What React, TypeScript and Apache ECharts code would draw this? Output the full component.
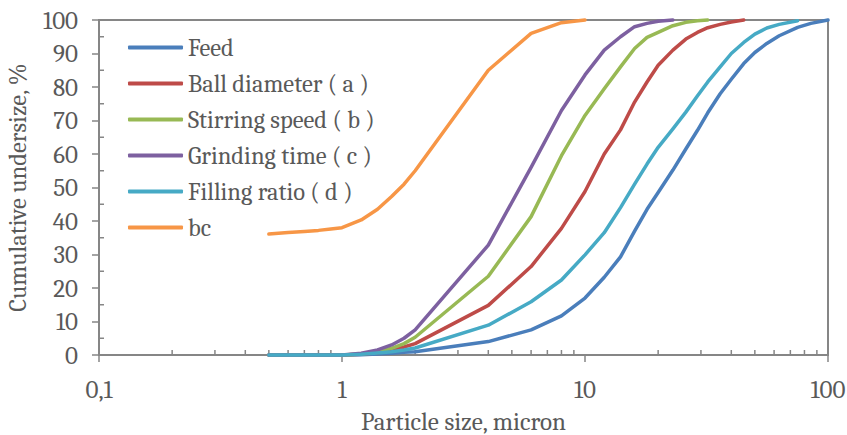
import React, { useEffect, useRef } from "react";
import * as echarts from "echarts";

// Particle sizes (micron)
const sizes = [0.5, 0.6, 0.7, 0.8, 0.9, 1, 1.2, 1.4, 1.6, 1.8, 2, 4, 6, 8, 10, 12, 14, 16, 18, 20, 23, 26, 29, 32, 36, 40, 45, 50, 56, 63, 75, 85, 100];

const seriesNames = ["Feed", "Ball diameter ( a )", "Stirring speed ( b )", "Grinding time ( c )", "Filling ratio ( d )", "bc"];
const seriesColors = ["#4A7EBB", "#BE4B48", "#98B954", "#7D60A0", "#46AAC5", "#F79646"];

const feed = [0, 0, 0, 0, 0, 0, 0.1, 0.3, 0.5, 0.8, 1.0, 4.0, 7.5, 11.7, 17.0, 23.2, 29.3, 37.0, 43.5, 48.5, 55.2, 61.5, 67.0, 72.3, 78.0, 82.3, 87.0, 90.3, 93.0, 95.3, 97.8, 99.0, 100];
const ballDiameter = [0, 0, 0, 0, 0, 0, 0.2, 0.7, 1.4, 2.4, 3.4, 14.8, 26.4, 37.8, 48.8, 60.0, 67.2, 75.5, 81.5, 86.5, 91.0, 94.3, 96.3, 97.7, 98.7, 99.4, 100];
const stirringSpeed = [0, 0, 0, 0, 0, 0, 0.3, 1.0, 2.0, 3.4, 5.3, 23.5, 41.3, 59.5, 71.5, 79.5, 86.0, 91.5, 94.8, 96.3, 98.3, 99.3, 99.8, 100];
const grindingTime = [0, 0, 0, 0, 0, 0, 0.5, 1.5, 3.0, 5.0, 7.5, 32.8, 56.0, 73.0, 83.6, 91.0, 95.0, 98.0, 99.0, 99.6, 100];
const fillingRatio = [0, 0, 0, 0, 0, 0, 0.2, 0.6, 1.0, 1.5, 2.1, 8.9, 15.9, 22.4, 29.9, 36.5, 44.0, 51.0, 57.0, 62.0, 67.5, 72.5, 77.3, 81.5, 86.0, 90.0, 93.3, 95.8, 97.6, 98.7, 99.8];
const bc = [36.1, 36.6, 36.9, 37.2, 37.6, 38.0, 40.3, 43.5, 47.3, 51.0, 55.0, 85.0, 96.0, 99.2, 100];

const allValues = [feed, ballDiameter, stirringSpeed, grindingTime, fillingRatio, bc];

// minor tick positions
const xMinorTicks = [0.2, 0.3, 0.4, 0.5, 0.6, 0.7, 0.8, 0.9, 2, 3, 4, 5, 6, 7, 8, 9, 20, 30, 40, 50, 60, 70, 80, 90];
const yMinorTicks = [5, 15, 25, 35, 45, 55, 65, 75, 85, 95];

const FONT = "Caladea";
const AXIS_COLOR = "#868686";
const TEXT_COLOR = "#595959";

export default function App() {
  const ref = useRef<HTMLDivElement>(null);
  useEffect(() => {
    if (!ref.current) return;
    const chart = echarts.init(ref.current, undefined, { renderer: "svg" });
    const lineSeries = allValues.map((vals, i) => ({
      name: seriesNames[i],
      type: "line",
      data: vals.map((v, j) => [sizes[j], v]),
      showSymbol: false,
      symbol: "none",
      clip: false,
      lineStyle: { color: seriesColors[i], width: 3.5, cap: "round", join: "round" },
      itemStyle: { color: seriesColors[i] },
      z: 3,
    }));
    const minorX = {
      type: "custom",
      silent: true,
      data: xMinorTicks.map((x) => [x, 0]),
      renderItem: (params: any, api: any) => {
        const p = api.coord([api.value(0), api.value(1)]);
        return {
          type: "line",
          shape: { x1: p[0], y1: p[1], x2: p[0], y2: p[1] - 5 },
          style: { stroke: AXIS_COLOR, lineWidth: 1.5 },
        };
      },
      z: 1,
    };
    const minorY = {
      type: "custom",
      silent: true,
      data: yMinorTicks.map((y) => [0.1, y]),
      renderItem: (params: any, api: any) => {
        const p = api.coord([api.value(0), api.value(1)]);
        return {
          type: "line",
          shape: { x1: p[0], y1: p[1], x2: p[0] + 5, y2: p[1] },
          style: { stroke: AXIS_COLOR, lineWidth: 1.5 },
        };
      },
      z: 1,
    };
    chart.setOption({
      animation: false,
      textStyle: { fontFamily: FONT },
      grid: {
        left: 99,
        right: 19,
        top: 20,
        bottom: 80,
        containLabel: false,
        outerBoundsMode: "none",
        show: true,
        borderColor: AXIS_COLOR,
        borderWidth: 2,
        backgroundColor: "transparent",
      },
      legend: {
        data: seriesNames,
        orient: "vertical",
        left: 123,
        top: 30,
        itemWidth: 55,
        itemHeight: 4,
        itemGap: 11,
        icon: "roundRect",
        textStyle: { fontFamily: FONT, fontSize: 24.5, color: TEXT_COLOR, lineHeight: 25 },
      },
      xAxis: {
        type: "log",
        logBase: 10,
        min: 0.1,
        max: 100,
        name: "Particle size, micron",
        nameLocation: "middle",
        nameGap: 56,
        nameTextStyle: { fontFamily: FONT, fontSize: 25, color: TEXT_COLOR, lineHeight: 20 },
        axisLine: { show: true, lineStyle: { color: AXIS_COLOR, width: 2 } },
        axisTick: { show: true, length: 7, lineStyle: { color: AXIS_COLOR, width: 1.5 } },
        minorTick: { show: false },
        splitLine: { show: false },
        axisLabel: {
          fontFamily: FONT,
          fontSize: 25,
          color: TEXT_COLOR,
          margin: 22,
          formatter: (v: number) => (v < 1 ? v.toFixed(1).replace(".", ",") : String(Math.round(v))),
        },
      },
      yAxis: {
        type: "value",
        min: 0,
        max: 100,
        interval: 10,
        name: "Cumulative undersize, %",
        nameLocation: "middle",
        nameGap: 69,
        nameTextStyle: { fontFamily: FONT, fontSize: 24.5, color: TEXT_COLOR },
        axisLine: { show: true, lineStyle: { color: AXIS_COLOR, width: 2 } },
        axisTick: { show: true, length: 7, lineStyle: { color: AXIS_COLOR, width: 1.5 } },
        splitLine: { show: false },
        axisLabel: { fontFamily: FONT, fontSize: 25, color: TEXT_COLOR, margin: 21 },
      },
      series: [minorX, minorY, ...lineSeries],
    });
    return () => chart.dispose();
  }, []);
  return <div ref={ref} style={{ position: "absolute", left: 0, top: 0, width: 847, height: 435 }} />;
}
